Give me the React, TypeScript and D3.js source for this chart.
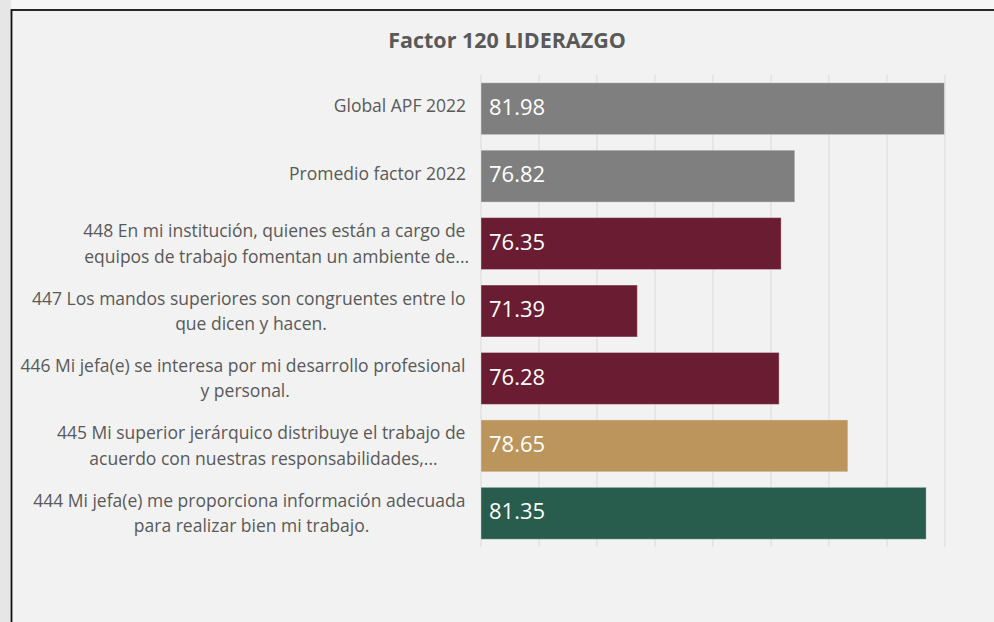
import React, { useEffect, useRef } from "react";
import * as d3 from "d3";

const title = "Factor 120 LIDERAZGO";
const categories = [
  "Global APF 2022",
  "Promedio factor 2022",
  "448 En mi institución, quienes están a cargo de\nequipos de trabajo fomentan un ambiente de...",
  "447 Los mandos superiores son congruentes entre lo\nque dicen y hacen.",
  "446 Mi jefa(e) se interesa por mi desarrollo profesional\ny personal.",
  "445 Mi superior jerárquico distribuye el trabajo de\nacuerdo con nuestras responsabilidades,...",
  "444 Mi jefa(e) me proporciona información adecuada\npara realizar bien mi trabajo.",
];
const values = [81.98, 76.82, 76.35, 71.39, 76.28, 78.65, 81.35];
const barColors = ["#7f7f7f", "#7f7f7f", "#691c32", "#691c32", "#691c32", "#bc955c", "#285c4d"];
const xDomain = [66, 82];

const W = 994;
const H = 622;
const FONT = "'Open Sans', 'Noto Sans', sans-serif";

export default function App() {
  const ref = useRef<SVGSVGElement>(null);

  useEffect(() => {
    const svg = d3.select(ref.current);
    svg.selectAll("*").remove();

    // outer background
    svg.append("rect").attr("x", 0).attr("y", 0).attr("width", W).attr("height", H).attr("fill", "#f6f6f6");
    svg.append("rect").attr("x", 0).attr("y", 0).attr("width", 11).attr("height", H).attr("fill", "#e6e6e6");
    // frame
    svg.append("rect")
      .attr("x", 11.5).attr("y", 10).attr("width", W + 10).attr("height", H + 10)
      .attr("fill", "#f2f2f2").attr("stroke", "#111").attr("stroke-width", 1.8);

    const x = d3.scaleLinear().domain(xDomain).range([481, 945]);
    const y = d3.scaleBand<string>().domain(categories).range([75, 547]).paddingInner(0.23).paddingOuter(0.115);

    // gridlines
    svg.append("g").selectAll("line").data(x.ticks(8)).join("line")
      .attr("x1", (d) => x(d)).attr("x2", (d) => x(d))
      .attr("y1", 75).attr("y2", 547)
      .attr("stroke", "#d9d9d9").attr("stroke-width", 1);

    // bars
    svg.append("g").selectAll("rect").data(categories).join("rect")
      .attr("x", x(xDomain[0]))
      .attr("y", (d) => y(d)!)
      .attr("width", (d, i) => x(values[i]) - x(xDomain[0]))
      .attr("height", y.bandwidth())
      .attr("fill", (d, i) => barColors[i])
      .attr("stroke", "rgba(255,255,255,0.35)").attr("stroke-width", 1);

    // value labels
    svg.append("g").selectAll("text").data(categories).join("text")
      .attr("x", x(xDomain[0]) + 8)
      .attr("y", (d) => y(d)! + y.bandwidth() / 2 - 1.5)
      .attr("dy", "0.35em")
      .attr("fill", "#ffffff")
      .attr("font-family", FONT)
      .attr("font-size", 22)
      .attr("font-weight", 500)
      .text((d, i) => values[i].toFixed(2));

    // category labels
    const lg = svg.append("g").attr("font-family", FONT).attr("font-size", 17.5)
      .attr("font-weight", 500).attr("fill", "#595959");
    const probe = lg.append("text").text("a a");
    const probe2 = lg.append("text").text("aa");
    const spaceW = (probe.node() as SVGTextElement).getComputedTextLength() - (probe2.node() as SVGTextElement).getComputedTextLength();
    probe.remove();
    probe2.remove();

    categories.forEach((cat) => {
      const lines = cat.split("\n");
      const cy = y(cat)! + y.bandwidth() / 2 - 1.5;
      const lh = 25.5;
      if (lines.length === 1) {
        lg.append("text").attr("x", 466).attr("y", cy).attr("dy", "0.3em")
          .attr("text-anchor", "end").text(lines[0]);
        return;
      }
      const texts = lines.map((l, i) =>
        lg.append("text").attr("y", cy + 2.5 + (i - (lines.length - 1) / 2) * lh).attr("dy", "0.3em")
          .attr("text-anchor", "middle").text(l)
      );
      const widths = texts.map((t, i) =>
        (t.node() as SVGTextElement).getComputedTextLength() + (i < lines.length - 1 ? spaceW : 0)
      );
      const bw = Math.max(...widths);
      const R = 470;
      const cx = R - bw / 2;
      texts.forEach((t, i) => {
        const trailing = i < lines.length - 1 ? spaceW : 0;
        t.attr("x", cx - trailing / 2);
      });
    });

    // title
    svg.append("text")
      .attr("x", 507).attr("y", 47.5)
      .attr("text-anchor", "middle")
      .attr("font-family", FONT).attr("font-size", 21.5).attr("font-weight", 700)
      .attr("fill", "#595959")
      .text(title);
  }, []);

  return (
    <svg
      ref={ref}
      width={W}
      height={H}
      style={{ position: "absolute", left: 0, top: 0, display: "block" }}
    />
  );
}
